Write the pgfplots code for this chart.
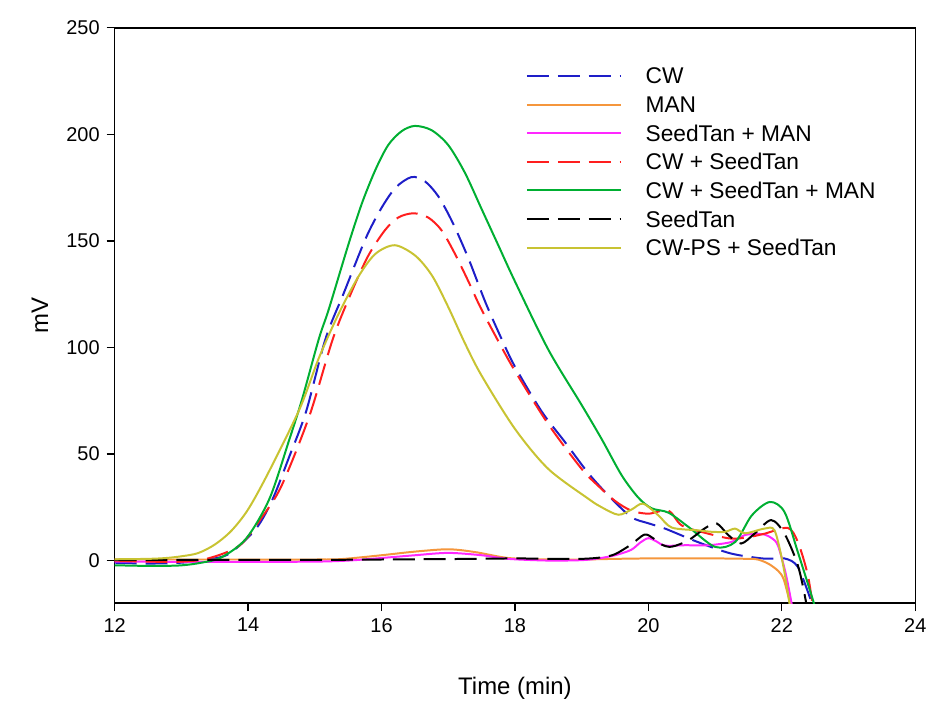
\documentclass[border=0pt]{standalone}
\usepackage{pgfplots}
\pgfplotsset{compat=1.18}
\usepackage{fontspec}
\setmainfont{Liberation Sans}

\definecolor{cwblue}{RGB}{30,30,200}
\definecolor{manorange}{RGB}{245,150,60}
\definecolor{stmag}{RGB}{255,40,255}
\definecolor{seedred}{RGB}{255,30,30}
\definecolor{allgreen}{RGB}{0,175,50}
\definecolor{psolive}{RGB}{200,195,50}

\begin{document}
\begin{tikzpicture}
\begin{axis}[
    scale only axis,
    width=401.5pt, height=288.5pt,
    xmin=12, xmax=24,
    ymin=-20, ymax=250,
    xtick={12,14,...,24},
    ytick={0,50,...,250},
    tick pos=left,
    tick align=outside,
    major tick length=4pt,
    every tick/.style={black, line width=0.6pt},
    axis line style={line width=0.7pt},
    /pgf/number format/assume math mode=true,
    ticklabel style={font=\fontsize{10}{12}\selectfont},
    xlabel={Time (min)},
    ylabel={mV},
    label style={font=\fontsize{12}{14}\selectfont},
    xlabel style={at={(axis description cs:0.5,-0.148)}, anchor=center},
    ylabel style={at={(axis description cs:-0.0934,0.5)}, anchor=center},
    legend cell align=left,
    legend image code/.code={\draw[#1] (0pt,0pt) -- (47pt,0pt);},
    legend style={draw=none, fill=none, inner sep=0pt,
        at={(0.513,0.931)}, anchor=north west,
        font=\fontsize{11.4}{13}\selectfont,
        nodes={inner sep=0pt, text height=8pt, text depth=0pt},
        row sep=6.35pt, column sep=12pt},
    every axis plot/.append style={line width=1pt, smooth},
]
\addlegendimage{cwblue, line width=1pt, dash pattern=on 11pt off 4.5pt}
\addlegendentry{CW}
\addlegendimage{manorange, line width=1pt}
\addlegendentry{MAN}
\addlegendimage{stmag, line width=1pt}
\addlegendentry{SeedTan + MAN}
\addlegendimage{seedred, line width=1.1pt, dash pattern=on 11pt off 4.5pt}
\addlegendentry{CW + SeedTan}
\addlegendimage{allgreen, line width=1pt}
\addlegendentry{CW + SeedTan + MAN}
\addlegendimage{black, line width=1pt, dash pattern=on 11pt off 4.5pt}
\addlegendentry{SeedTan}
\addlegendimage{psolive, line width=1pt}
\addlegendentry{CW-PS + SeedTan}
% CW
\addplot[cwblue, dash pattern=on 11pt off 4.5pt, forget plot] coordinates {
    (12,-1) (12.5,-1.4) (13,-1) (13.4,0.5) (13.72,3.3) (14.12,15) (14.37,29)
    (14.62,49) (14.87,70) (15.16,104) (15.44,126) (15.76,151) (15.99,165)
    (16.21,175) (16.45,180) (16.65,178) (16.85,171) (17.06,159) (17.3,142)
    (17.56,121) (17.8,104) (18.0,91) (18.4,70) (18.75,55.6) (19.1,41)
    (19.4,30.6) (19.74,20.5) (20.0,17.5) (20.25,15) (20.74,8.7) (21.24,3.3)
    (21.74,0.9) (22.04,1) (22.24,-3) (22.44,-19) (22.5,-25)
};
% MAN
\addplot[manorange, forget plot] coordinates {
    (12,0.5) (13,0.5) (14,0.5) (15,0.5) (15.4,0.7) (16,2.5) (16.5,4.2)
    (17.0,5.3) (17.4,4) (17.9,1.2) (18.5,0.5) (19,0.5) (19.5,0.8) (20,1)
    (21,1) (21.5,0.8) (21.64,0.5) (21.8,-1.5) (21.95,-5) (22.03,-9)
    (22.13,-21) (22.15,-25)
};
% SeedTan + MAN
\addplot[stmag, forget plot] coordinates {
    (12,-0.5) (13,-0.6) (14,-0.6) (15,-0.5) (15.5,0) (16,1.2) (16.5,2.5)
    (17.0,3.6) (17.5,2.5) (17.9,0.8) (18.5,0) (19.0,0.2) (19.25,1)
    (19.5,2.5) (19.74,5) (19.88,8.5) (20.0,10.5) (20.12,9) (20.25,7)
    (20.55,7.2) (20.9,7.2) (21.24,8.7) (21.44,11.9) (21.6,12.5) (21.74,12.2)
    (21.85,10.5) (21.94,7.2) (22.05,-5) (22.14,-19) (22.17,-25)
};
% CW + SeedTan
\addplot[seedred, dash pattern=on 11pt off 4.5pt, forget plot] coordinates {
    (12,0) (12.5,-0.5) (13,-0.5) (13.4,1) (13.87,7) (14.2,20) (14.5,35)
    (14.92,68) (15.27,104) (15.55,126) (15.8,143) (16.05,155) (16.25,161)
    (16.48,163) (16.7,161) (16.9,155) (17.1,144) (17.31,130.5) (17.48,119)
    (17.75,103) (18.0,89) (18.5,64) (19.0,43) (19.25,35) (19.5,28)
    (19.74,23.5) (20.0,22) (20.3,23.5) (20.5,16.5) (20.9,12.6) (21.24,10.3)
    (21.5,11) (21.74,12.6) (22.09,15.3) (22.24,8.7) (22.39,-6.9) (22.48,-25)
};
% CW + SeedTan + MAN
\addplot[allgreen, forget plot] coordinates {
    (12,-2.2) (12.5,-2.5) (12.97,-2.3) (13.3,-1) (13.6,1.5) (13.97,10.3)
    (14.32,29) (14.62,57) (14.81,75.8) (15.06,104) (15.21,118) (15.51,149)
    (15.71,168) (15.91,183.5) (16.1,195) (16.3,201.5) (16.5,204) (16.75,202)
    (17.0,195) (17.25,182) (17.5,165) (17.75,148) (18.0,131) (18.5,99)
    (19.0,73) (19.3,57) (19.6,40) (19.85,29.5) (20.05,24.5) (20.3,22.5)
    (20.6,15.8) (21.0,6.4) (21.3,8.7) (21.55,21.2) (21.82,27.5) (22.04,22.8)
    (22.24,4) (22.49,-21) (22.51,-25)
};
% SeedTan
\addplot[black, dash pattern=on 11pt off 4.5pt, forget plot] coordinates {
    (12,0.3) (13,0.3) (14,0.3) (15,0.3) (16,0.5) (17,0.7) (18,1) (18.5,0.8)
    (19,0.8) (19.3,1.5) (19.5,3) (19.74,7.5) (19.94,12.2) (20.07,10.5)
    (20.2,7.5) (20.35,6.5) (20.6,9.5) (20.84,15) (21.02,17.5) (21.2,11.9)
    (21.39,8) (21.59,12.6) (21.84,19) (22.04,12.6) (22.24,-2.2)
    (22.36,-19) (22.38,-25)
};
% CW-PS + SeedTan
\addplot[psolive, forget plot] coordinates {
    (12,0.6) (12.5,0.8) (12.77,1.2) (13.0,2) (13.25,3.5) (13.5,7.5)
    (13.75,14) (14.0,24) (14.3,41) (14.77,71) (15.06,95) (15.36,116)
    (15.66,133.6) (15.91,144) (16.2,148) (16.51,143) (16.76,133.6) (17.0,119)
    (17.25,102) (17.5,86.8) (18.0,61.8) (18.5,43) (19.1,29) (19.3,25)
    (19.55,21.5) (19.75,24) (19.92,26.7) (20.15,21.2) (20.35,15.5)
    (20.74,14.2) (20.95,13.5) (21.15,13.5) (21.3,15) (21.45,12.8)
    (21.74,15) (21.89,14.2) (22.01,-0.6) (22.11,-19) (22.13,-25)
};
\end{axis}
\path ([xshift=-57.5pt,yshift=-47.5pt]current axis.south west)
    rectangle ([xshift=7.5pt,yshift=14pt]current axis.north east);
\end{tikzpicture}
\end{document}
